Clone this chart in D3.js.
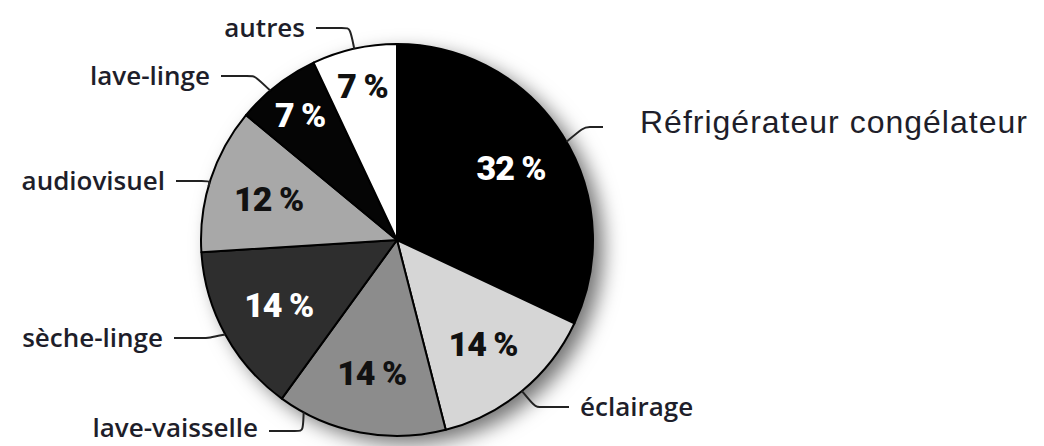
<!DOCTYPE html>
<html>
<head>
<meta charset="utf-8">
<style>
  body { margin: 0; background: #fff; }
  #chart svg { display: block; }
</style>
<script src="https://cdn.jsdelivr.net/npm/d3@7"></script>
</head>
<body>
<div id="chart"></div>
<script>
// data, clockwise from 12 o'clock
const categories = ["Réfrigérateur congélateur", "éclairage", "lave-vaisselle", "sèche-linge", "audiovisuel", "lave-linge", "autres"];
const values = [32, 14, 14, 14, 12, 7, 7];

const [w, h] = [1044, 446];
const [cx, cy, r] = [397, 240, 196];

const color = d3.scaleOrdinal()
  .domain(categories)
  .range(["#000000", "#d6d6d6", "#8c8c8c", "#2e2e2e", "#a8a8a8", "#050505", "#ffffff"]);
const textColor = d3.scaleOrdinal()
  .domain(categories)
  .range(["#fff", "#111", "#111", "#fff", "#111", "#fff", "#111"]);

// where each outside label sits (text anchor point), and where along the slice the leader touches
const labelLayout = {
  "Réfrigérateur congélateur": { x: 640, y: 122, anchor: "start", t: 0.52, gap: 37, len: 15, dy: 5, font: "'Liberation Sans', Arial, sans-serif", size: 32, weight: 400, spacing: 1 },
  "éclairage":      { x: 580, y: 407, anchor: "start", t: 0.5 },
  "lave-vaisselle": { x: 258, y: 428, anchor: "end", t: 0.85, dy: 3 },
  "sèche-linge":    { x: 163, y: 338, anchor: "end", t: 0.5 },
  "audiovisuel":    { x: 165, y: 181, anchor: "end", t: 0.45 },
  "lave-linge":     { x: 210, y: 76, anchor: "end", t: 0.4 },
  "autres":         { x: 305, y: 28, anchor: "end", t: 0.5 }
};

const svg = d3.select("#chart").append("svg")
  .attr("width", w)
  .attr("height", h);

const defs = svg.append("defs");
const shadow = defs.append("filter").attr("id", "shadow")
  .attr("x", "-20%").attr("y", "-20%").attr("width", "150%").attr("height", "150%");
shadow.append("feDropShadow")
  .attr("dx", 10).attr("dy", 8).attr("stdDeviation", 10)
  .attr("flood-color", "#000").attr("flood-opacity", 0.55);

const pie = d3.pie().sort(null).value(d => d.value);
const arcs = pie(categories.map((c, i) => ({ name: c, value: values[i] })));
const arc = d3.arc().innerRadius(0).outerRadius(r);

const g = svg.append("g").attr("transform", `translate(${cx},${cy})`);

g.append("circle").attr("r", r).attr("fill", "#fff").attr("filter", "url(#shadow)");

g.selectAll("path.slice")
  .data(arcs)
  .enter()
  .append("path")
  .attr("class", "slice")
  .attr("d", arc)
  .attr("fill", d => color(d.data.name))
  .attr("stroke", "#000")
  .attr("stroke-width", 2)
  .attr("stroke-linejoin", "round");

// percentages inside
g.selectAll("text.pct")
  .data(arcs)
  .enter()
  .append("text")
  .attr("class", "pct")
  .attr("transform", d => {
    const lr = d.data.value < 10 ? 158 : 135;
    const c = d3.arc().innerRadius(lr).outerRadius(lr).centroid(d);
    return `translate(${c[0]},${c[1]})`;
  })
  .attr("text-anchor", "middle")
  .attr("dy", "0.36em")
  .attr("font-family", "Roboto, sans-serif")
  .attr("font-weight", 900)
  .attr("font-size", 34)
  .attr("letter-spacing", -1)
  .attr("fill", d => textColor(d.data.name))
  .text(d => `${d.data.value} %`);

// outside labels with leader lines
const lab = svg.append("g");
arcs.forEach(d => {
  const L = labelLayout[d.data.name];
  const a = d.startAngle + (d.endAngle - d.startAngle) * L.t;
  const px = cx + r * Math.sin(a), py = cy - r * Math.cos(a);
  const dir = L.anchor === "end" ? 1 : -1;
  const gap = L.gap || 11, len = L.len || 30, ly = L.y + (L.dy || 0);
  const x1 = L.x + dir * gap, x2 = x1 + dir * len;
  lab.append("path")
    .attr("d", d3.line().curve(d3.curveBasis)([[x1, ly], [x2, ly], [x2 + dir * 4, ly], [px, py]]))
    .attr("fill", "none")
    .attr("stroke", "#222")
    .attr("stroke-width", 2);
  lab.append("text")
    .attr("x", L.x)
    .attr("y", L.y)
    .attr("dy", "0.35em")
    .attr("text-anchor", L.anchor)
    .attr("font-family", L.font || "'Open Sans', sans-serif")
    .attr("font-size", L.size || 26)
    .attr("font-weight", L.weight || 600)
    .attr("letter-spacing", L.spacing || 0)
    .attr("fill", "#1e1e2a")
    .text(d.data.name);
});
</script>
</body>
</html>
